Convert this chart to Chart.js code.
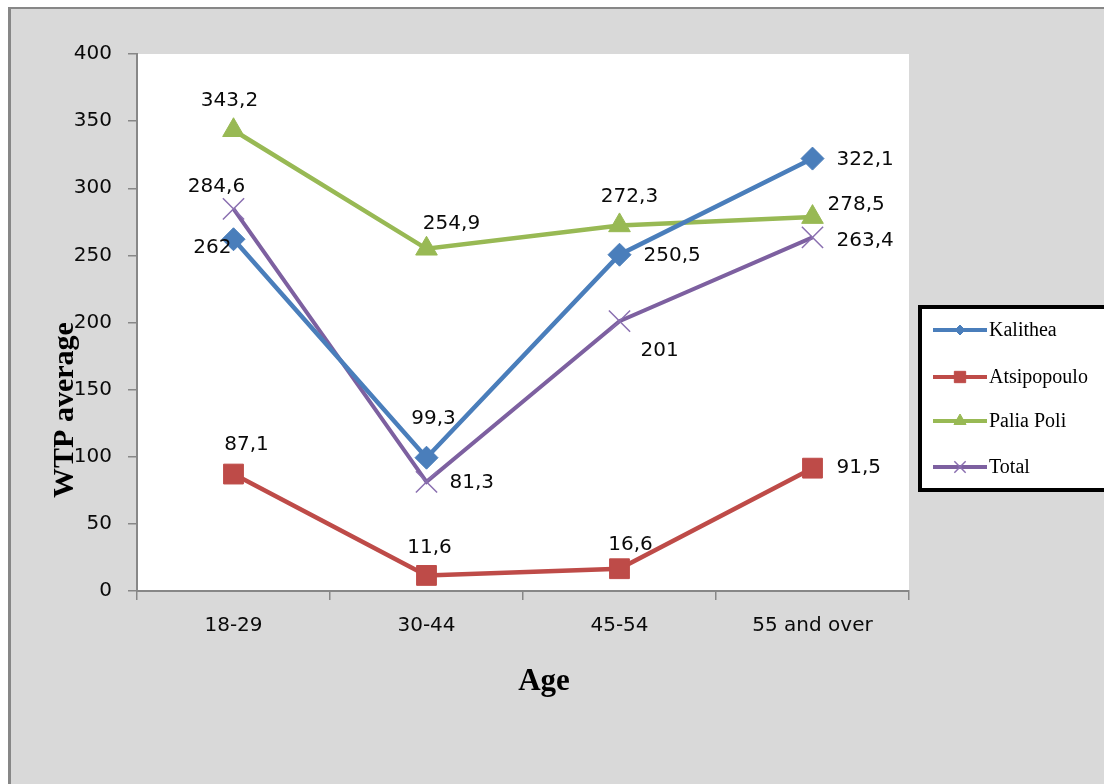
<!DOCTYPE html>
<html>
<head>
<meta charset="utf-8">
<script src="https://cdn.jsdelivr.net/npm/chart.js@4/dist/chart.umd.min.js"></script>
<style>
  html, body { margin: 0; padding: 0; background: #ffffff; }
  #wrap { width: 1104px; height: 784px; }
</style>
</head>
<body>
<div id="wrap"><canvas id="wtp-chart" width="1104" height="784"></canvas></div>
<script>
const ageGroups = ["18-29", "30-44", "45-54", "55 and over"];
const kalithea = [262, 99.3, 250.5, 322.1];
const atsipopoulo = [87.1, 11.6, 16.6, 91.5];
const paliaPoli = [343.2, 254.9, 272.3, 278.5];
const total = [284.6, 81.3, 201, 263.4];
const yTicks = [0, 50, 100, 150, 200, 250, 300, 350, 400];

// where each value label sits relative to its point: [align, dx, dy]
const labelPlacement = [
  [["right", -2, 9], ["center", 7, -39], ["left", 24, 1], ["left", 24, 1]],
  [["center", 13, -29], ["center", 3, -28], ["center", 11, -24], ["left", 24, 0]],
  [["center", -4, -29], ["center", 25, -25], ["center", 10, -29], ["left", 15, -12]],
  [["center", -17, -22], ["left", 23, 1], ["left", 21, 30], ["left", 24, 3]],
];

const tickFont = { family: "DejaVu Sans", size: 20 };
const axisGrey = "#878787";

const frame = {
  id: "frame",
  beforeDraw(chart) {
    const { ctx, width, height, chartArea } = chart;
    ctx.save();
    ctx.fillStyle = "#ffffff";
    ctx.fillRect(0, 0, width, height);
    ctx.fillStyle = axisGrey;
    ctx.fillRect(8, 7, width - 8, height - 7);
    ctx.fillStyle = "#d9d9d9";
    ctx.fillRect(11, 9, width - 11, height - 9);
    ctx.fillStyle = "#ffffff";
    ctx.fillRect(chartArea.left, chartArea.top, chartArea.right - chartArea.left, chartArea.bottom - chartArea.top);
    ctx.restore();
  },
  afterDraw(chart) {
    const { ctx } = chart;
    ctx.save();
    ctx.fillStyle = "#000000";
    ctx.font = "bold 30px 'Liberation Serif'";
    ctx.textAlign = "center";
    ctx.textBaseline = "alphabetic";
    ctx.translate(73, 410);
    ctx.rotate(-Math.PI / 2);
    ctx.fillText("WTP average", 0, 0);
    ctx.restore();

    ctx.save();
    ctx.fillStyle = "#000000";
    ctx.font = "bold 31px 'Liberation Serif'";
    ctx.textAlign = "center";
    ctx.textBaseline = "alphabetic";
    ctx.fillText("Age", 544, 690);
    ctx.restore();

    // legend box
    ctx.save();
    ctx.fillStyle = "#ffffff";
    ctx.fillRect(918, 305, 200, 187);
    ctx.lineWidth = 4;
    ctx.strokeStyle = "#000000";
    ctx.strokeRect(920, 307, 200, 183);
    const rows = [330, 377, 421, 467];
    const legendMarks = [5, 8, 7, 8];
    chart.data.datasets.forEach((ds, i) => {
      const y = rows[i];
      ctx.strokeStyle = ds.borderColor;
      ctx.lineWidth = 4;
      ctx.beginPath();
      ctx.moveTo(933, y);
      ctx.lineTo(987, y);
      ctx.stroke();
      ctx.fillStyle = ds.pointBackgroundColor;
      ctx.strokeStyle = ds.pointBorderColor;
      ctx.lineWidth = ds.pointBorderWidth;
      Chart.helpers.drawPoint(ctx, {
        pointStyle: ds.pointStyle,
        radius: legendMarks[i],
        rotation: 0,
        borderWidth: ds.pointBorderWidth,
      }, 960, y);
      ctx.fillStyle = "#000000";
      ctx.font = "20px 'Liberation Serif'";
      ctx.textAlign = "left";
      ctx.textBaseline = "middle";
      ctx.fillText(ds.label, 989, y + 1);
    });
    ctx.restore();
  },
};

const valueLabels = {
  id: "valueLabels",
  afterDatasetsDraw(chart) {
    const { ctx } = chart;
    ctx.save();
    ctx.fillStyle = "#0a0a0a";
    ctx.font = "20px 'DejaVu Sans'";
    ctx.textBaseline = "middle";
    chart.data.datasets.forEach((ds, i) => {
      const meta = chart.getDatasetMeta(i);
      meta.data.forEach((pt, j) => {
        const [align, dx, dy] = labelPlacement[i][j];
        ctx.textAlign = align;
        const text = String(ds.data[j]).replace(".", ",");
        ctx.fillText(text, pt.x + dx, pt.y + dy);
      });
    });
    ctx.restore();
  },
};

new Chart(document.getElementById("wtp-chart").getContext("2d"), {
  type: "line",
  data: {
    labels: ageGroups,
    datasets: [
      {
        label: "Kalithea",
        data: kalithea,
        borderColor: "#4a7ebb",
        pointBackgroundColor: "#4a7ebb",
        pointBorderColor: "#4a7ebb",
        pointBorderWidth: 1,
        pointStyle: "rectRot",
        pointRadius: 11.5,
        borderWidth: 4.5,
      },
      {
        label: "Atsipopoulo",
        data: atsipopoulo,
        borderColor: "#be4b48",
        pointBackgroundColor: "#be4b48",
        pointBorderColor: "#be4b48",
        pointBorderWidth: 1,
        pointStyle: "rect",
        pointRadius: 14,
        borderWidth: 4.5,
      },
      {
        label: "Palia Poli",
        data: paliaPoli,
        borderColor: "#98b954",
        pointBackgroundColor: "#98b954",
        pointBorderColor: "#98b954",
        pointBorderWidth: 1,
        pointStyle: "triangle",
        pointRadius: 12.5,
        borderWidth: 4.5,
      },
      {
        label: "Total",
        data: total,
        borderColor: "#7d60a0",
        pointBackgroundColor: "#7d60a0",
        pointBorderColor: "#8a6fb0",
        pointBorderWidth: 1.5,
        pointStyle: "crossRot",
        pointRadius: 15,
        borderWidth: 4,
      },
    ],
  },
  options: {
    responsive: false,
    animation: false,
    layout: {
      padding: { left: 0, top: 54, right: 195, bottom: 0 },
    },
    plugins: {
      legend: { display: false },
      tooltip: { enabled: false },
      title: { display: false },
    },
    elements: {
      line: { tension: 0 },
    },
    scales: {
      x: {
        type: "category",
        offset: true,
        grid: {
          offset: true,
          drawOnChartArea: false,
          drawTicks: true,
          tickLength: 9,
          color: axisGrey,
          lineWidth: 1.5,
        },
        border: { display: true, color: axisGrey, width: 2 },
        ticks: { font: tickFont, color: "#0a0a0a", padding: 14, maxRotation: 0 },
        afterFit(scale) {
          scale.height = 193;
        },
      },
      y: {
        min: 0,
        max: 400,
        afterBuildTicks(scale) {
          scale.ticks = yTicks.map((v) => ({ value: v }));
        },
        grid: {
          drawOnChartArea: false,
          drawTicks: true,
          tickLength: 9,
          color: axisGrey,
          lineWidth: 1.5,
        },
        border: { display: true, color: axisGrey, width: 2 },
        ticks: { font: tickFont, color: "#0a0a0a", padding: 16 },
        afterFit(scale) {
          scale.width = 137;
        },
      },
    },
  },
  plugins: [frame, valueLabels],
});
</script>
</body>
</html>
